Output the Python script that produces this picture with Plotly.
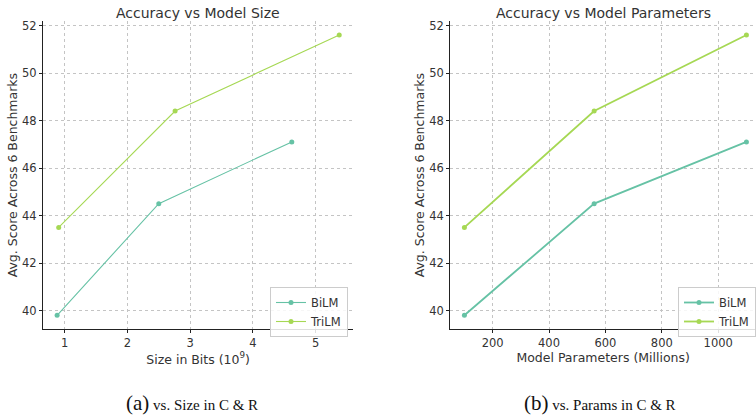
import plotly.graph_objects as go

# Data
size_bits_bilm = [0.88, 2.5, 4.62]
size_bits_trilm = [0.905, 2.76, 5.376]
params_millions = [100, 560, 1100]
score_bilm = [39.8, 44.5, 47.1]
score_trilm = [43.5, 48.4, 51.6]
series_names = ["BiLM", "TriLM"]
y_ticks = [40, 42, 44, 46, 48, 50, 52]
x_ticks_size = [1, 2, 3, 4, 5]
x_ticks_params = [200, 400, 600, 800, 1000]

C_BI = "#66c2a5"
C_TRI = "#a6d854"
W, H = 756, 419
FONT = "DejaVu Sans"

fig = go.Figure()

# Left panel
fig.add_trace(go.Scatter(x=size_bits_bilm, y=score_bilm, name=series_names[0], mode="lines+markers",
                         line=dict(color=C_BI, width=1.1), marker=dict(size=5, color=C_BI),
                         xaxis="x", yaxis="y", legend="legend"))
fig.add_trace(go.Scatter(x=size_bits_trilm, y=score_trilm, name=series_names[1], mode="lines+markers",
                         line=dict(color=C_TRI, width=1.1), marker=dict(size=5, color=C_TRI),
                         xaxis="x", yaxis="y", legend="legend"))
# Right panel
fig.add_trace(go.Scatter(x=params_millions, y=score_bilm, name=series_names[0], mode="lines+markers",
                         line=dict(color=C_BI, width=1.8), marker=dict(size=5, color=C_BI),
                         xaxis="x2", yaxis="y2", legend="legend2"))
fig.add_trace(go.Scatter(x=params_millions, y=score_trilm, name=series_names[1], mode="lines+markers",
                         line=dict(color=C_TRI, width=1.8), marker=dict(size=5, color=C_TRI),
                         xaxis="x2", yaxis="y2", legend="legend2"))

ydom = [1 - 329.3 / H, 1 - 21 / H]
common_axis = dict(showline=True, linecolor="#222", linewidth=1.3, showgrid=True,
                   gridcolor="#c4c4c4", gridwidth=0.7, griddash="dot", zeroline=False,
                   ticks="outside", ticklen=3, tickcolor="#222", tickfont=dict(family=FONT, size=11.5, color="#333"),
                   automargin=False)
title_font = dict(family=FONT, size=12.5, color="#333")

fig.update_layout(
    width=W, height=H, margin=dict(l=0, r=0, t=0, b=0),
    paper_bgcolor="white", plot_bgcolor="white",
    showlegend=True,
    xaxis=dict(domain=[43 / W, 353.3 / W], range=[0.655, 5.6], tickvals=x_ticks_size, anchor="y",
               title=dict(text="Size in Bits (10<sup>9</sup>)", font=title_font, standoff=2),
               **common_axis),
    yaxis=dict(domain=ydom, range=[39.21, 52.19], tickvals=y_ticks, anchor="x",
               title=dict(text="Avg. Score Across 6 Benchmarks", font=title_font, standoff=1),
               **common_axis),
    xaxis2=dict(domain=[450.3 / W, 1.0], range=[50, 1134], tickvals=x_ticks_params, anchor="y2",
                title=dict(text="Model Parameters (Millions)", font=title_font, standoff=2),
                **common_axis),
    yaxis2=dict(domain=ydom, range=[39.21, 52.19], tickvals=y_ticks, anchor="x2",
                title=dict(text="Avg. Score Across 6 Benchmarks", font=title_font, standoff=1),
                **common_axis),
    legend=dict(x=348 / W, xanchor="right", y=1 - 287 / H, yanchor="top",
                bgcolor="rgba(255,255,255,0.85)", bordercolor="#cccccc", borderwidth=1,
                font=dict(family=FONT, size=11.5, color="#333"), tracegroupgap=0, itemwidth=30),
    legend2=dict(x=1.0, xanchor="right", y=1 - 287 / H, yanchor="top",
                 bgcolor="rgba(255,255,255,0.85)", bordercolor="#cccccc", borderwidth=1,
                 font=dict(family=FONT, size=11.5, color="#333"), tracegroupgap=0, itemwidth=30),
    annotations=[
        dict(text="Accuracy vs Model Size", x=(43 + 353.3) / 2 / W, y=1 - 12.5 / H, xref="paper", yref="paper",
             showarrow=False, xanchor="center", yanchor="middle", font=dict(family=FONT, size=14, color="#333")),
        dict(text="Accuracy vs Model Parameters", x=(450.3 + 756) / 2 / W, y=1 - 12.5 / H, xref="paper", yref="paper",
             showarrow=False, xanchor="center", yanchor="middle", font=dict(family=FONT, size=14, color="#333")),
        dict(text="<span style='font-size:21px'>(a)</span> vs. Size in C &amp; R", x=192 / W, y=1 - 403 / H,
             xref="paper", yref="paper", showarrow=False, xanchor="center", yanchor="middle",
             font=dict(family="Liberation Serif", size=15, color="#111")),
        dict(text="<span style='font-size:21px'>(b)</span> vs. Params in C &amp; R", x=600 / W, y=1 - 403 / H,
             xref="paper", yref="paper", showarrow=False, xanchor="center", yanchor="middle",
             font=dict(family="Liberation Serif", size=15, color="#111")),
    ],
)

fig.write_html("out.html")
